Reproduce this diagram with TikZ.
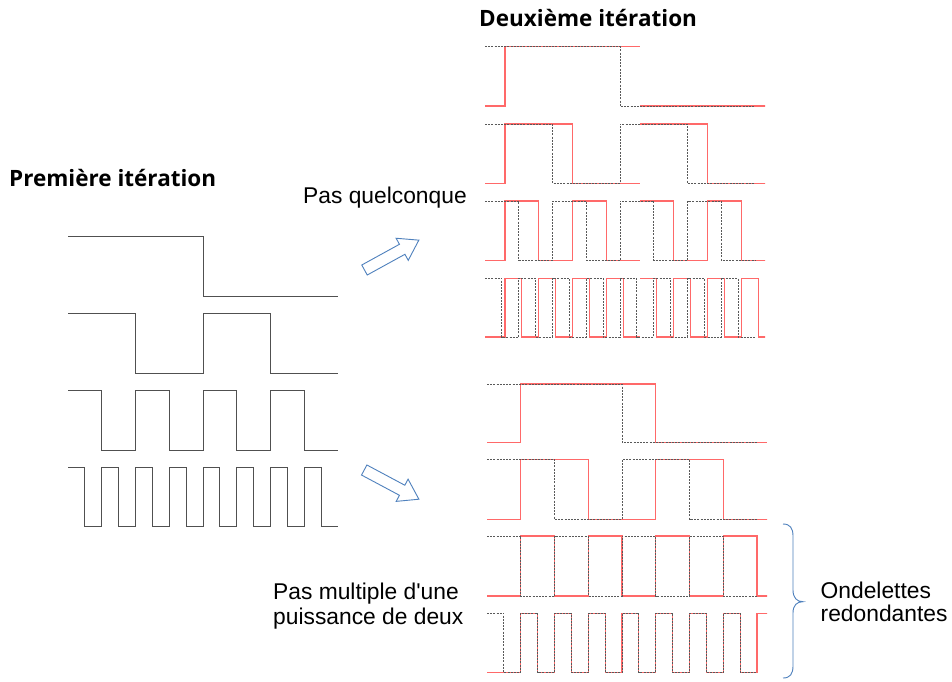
\documentclass[tikz,border=0pt]{standalone}
\usepackage{fontspec}
\setmainfont{Liberation Sans}
\newfontfamily\titlefont{Open Sans}

\definecolor{wavegray}{RGB}{80,80,80}
\definecolor{shiftred}{RGB}{255,105,105}
\definecolor{arrowblue}{RGB}{79,129,189}

% square wave: #1 style, #2 lead-in path, #3 x0, #4 y high, #5 y low,
% #6 half period, #7 number of periods (starts high, ends low)
\newcommand{\sqwave}[7]{%
  \ifnum#7>1\relax
    \draw[#1] #2 (#3,#4) \foreach \i in {2,...,#7} {-- ++(#6,0) -- ++(0,#5-#4) -- ++(#6,0) -- ++(0,#4-#5)} -- ++(#6,0) -- ++(0,#5-#4) -- ++(#6,0);
  \else
    \draw[#1] #2 (#3,#4) -- ++(#6,0) -- ++(0,#5-#4) -- ++(#6,0);
  \fi}

\tikzset{
  firstwave/.style={draw=wavegray, line width=0.9pt},
  basewave/.style={draw=black!65, line width=0.8pt, dash pattern=on 2pt off 1.2pt},
  shiftwave/.style={draw=shiftred, line width=1.1pt},
  bigarrow/.style={draw=arrowblue, line width=0.9pt, fill=white, line join=miter},
  txt/.style={font=\fontsize{22.8}{24}\selectfont, inner sep=0pt, anchor=base west},
  headtxt/.style={font=\titlefont\bfseries\fontsize{22.5}{24}\selectfont, inner sep=0pt, anchor=base west},
}

\begin{document}
\begin{tikzpicture}[x=1pt, y=-1pt]
\fill[white] (0,0) rectangle (952,681);
\path[use as bounding box] (0,0) rectangle (952,681);

% ---- first iteration ----
\draw[firstwave] (68,236) -- (203,236) -- (203,296) -- (338,296);
\sqwave{firstwave}{}{68}{313}{373}{67.5}{2}
\sqwave{firstwave}{}{68}{390}{450}{33.75}{4}
\sqwave{firstwave}{}{68}{467}{526}{16.875}{8}

% ---- second iteration, arbitrary step (shift 20) ----
\begin{scope}
\clip (480,0) rectangle (765,360);
\draw[shiftwave] (485,106) -- (505,106) -- (505,46.7) -- (640,46.7);
\draw[shiftwave] (640,106) -- (775,106);
\sqwave{shiftwave}{(485,183.3) -- (505,183.3) --}{505}{124}{183.3}{67.5}{1}
\sqwave{shiftwave}{}{640}{124}{183.3}{67.5}{1}
\sqwave{shiftwave}{(485,260.3) -- (505,260.3) --}{505}{201}{260.3}{33.75}{2}
\sqwave{shiftwave}{}{640}{201}{260.3}{33.75}{2}
\sqwave{shiftwave}{(485,337) -- (505,337) --}{505}{278.3}{337}{16.875}{4}
\sqwave{shiftwave}{}{640}{278.3}{337}{16.875}{4}
\end{scope}
\draw[basewave] (485,46.7) -- (620,46.7) -- (620,106) -- (755,106);
\sqwave{basewave}{}{485}{124}{183.3}{67.5}{2}
\sqwave{basewave}{}{485}{201}{260.3}{33.75}{4}
\sqwave{basewave}{}{485}{278.3}{337}{16.875}{8}

% ---- second iteration, dyadic step (shift 33.75) ----
\begin{scope}
\clip (480,360) rectangle (767,681);
\draw[shiftwave] (487,442.3) -- (520.75,442.3) -- (520.75,384) -- (655.75,384) -- (655.75,442.3) -- (767,442.3);
\sqwave{shiftwave}{(487,519.3) -- (520.75,519.3) --}{520.75}{459.3}{519.3}{67.5}{2}
\sqwave{shiftwave}{(487,596) -- (520.75,596) --}{520.75}{536}{596}{33.75}{4}
\sqwave{shiftwave}{(487,672.7) -- (520.75,672.7) --}{520.75}{613.3}{672.7}{16.875}{8}
\end{scope}
\draw[basewave] (487,384) -- (622,384) -- (622,442.3) -- (757,442.3);
\sqwave{basewave}{}{487}{459.3}{519.3}{67.5}{2}
\sqwave{basewave}{}{487}{536}{596}{33.75}{4}
\sqwave{basewave}{}{487}{613.3}{672.7}{16.875}{8}

% ---- block arrows ----
\begin{scope}[shift={(364.5,270)}, rotate=28.8]
\draw[bigarrow] (0,-5.7) -- (43,-5.7) -- (43,-12.6) -- (62,0) -- (43,12.6) -- (43,5.7) -- (0,5.7) -- cycle;
\end{scope}
\begin{scope}[shift={(364.2,470)}, rotate=-28.1]
\draw[bigarrow] (0,-5.7) -- (43,-5.7) -- (43,-12.6) -- (62,0) -- (43,12.6) -- (43,5.7) -- (0,5.7) -- cycle;
\end{scope}

% ---- brace ----
\draw[arrowblue, line width=0.9pt] (783,524) .. controls (790,524) and (793,528) .. (793,536)
  -- (793,590) .. controls (793,598) and (797,601.7) .. (803,601.7)
  .. controls (797,601.7) and (793,605) .. (793,613)
  -- (793,666) .. controls (793,674) and (790,678) .. (783,678);

% ---- texts ----
\node[headtxt] (first) at (9,186.7) {Première itération};
\node[headtxt] (second) at (479,26.7) {Deuxième itération};
\node[txt] (anystep) at (303,203.3) {Pas quelconque};
\node[txt] (dyadic1) at (273,599.3) {Pas multiple d\textquotesingle une};
\node[txt] (dyadic2) at (273,624) {puissance de deux};
\node[txt] (redund1) at (820.5,598.3) {Ondelettes};
\node[txt] (redund2) at (820.5,621.7) {redondantes};
\end{tikzpicture}
\end{document}
